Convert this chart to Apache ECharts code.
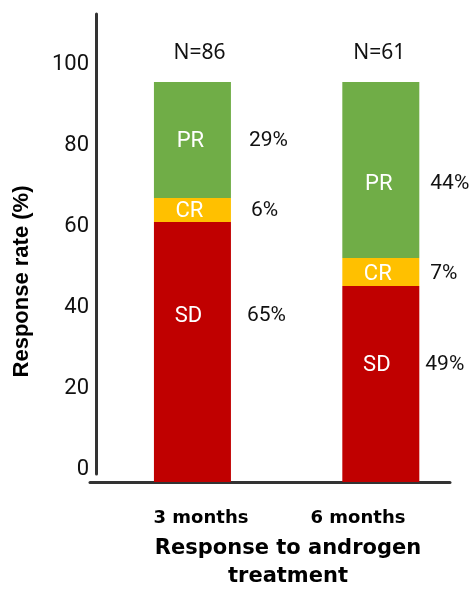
<!DOCTYPE html>
<html><head><meta charset="utf-8">
<script src="https://cdn.jsdelivr.net/npm/echarts@6/dist/echarts.min.js"></script>
<style>html,body{margin:0;padding:0;background:#fff}#c{width:475px;height:596px}</style>
</head><body><div id="c"></div>
<script>
// ---- data ----
const categories = ['3 months', '6 months'];
const segmentNames = ['SD', 'CR', 'PR'];
const sdValues = [65, 49];
const crValues = [6, 7];
const prValues = [29, 44];
const nLabels = ['N=86', 'N=61'];
const yTickValues = [0, 20, 40, 60, 80, 100];
const xTitle = 'Response to androgen\ntreatment';
const yTitle = 'Response rate (%)';

// ---- style config ----
const colors = { SD: '#C00000', CR: '#FFC000', PR: '#70AD47' };
const insideOffsets = { SD: [[-4, -36], [-4, -19]], CR: [[-3, 1], [-3, 2]], PR: [[-2, 1], [-2, 14]] };
const pctOffsets = { SD: [[16, -36], [6, -19]], CR: [[20, 1], [11, 2]], PR: [[18, 1], [11, 14]] };
const nOffsets = [[7, 0], [-1.5, 0]];
const FONT = 'Roboto';
const BOLD_X = 'DejaVu Sans';
const BOLD_Y = 'Liberation Sans';

const valuesBySeg = { SD: sdValues, CR: crValues, PR: prValues };
const series = [];
segmentNames.forEach(name => {
  series.push({
    name: name, type: 'bar', stack: 'main', xAxisIndex: 0, yAxisIndex: 0,
    barWidth: 77, barGap: '-100%', silent: true,
    itemStyle: { color: colors[name] },
    label: { show: true, position: 'inside', formatter: name, color: '#fff', fontFamily: FONT, fontSize: 22 },
    data: valuesBySeg[name].map((v, i) => ({ value: v, label: { offset: insideOffsets[name][i] } }))
  });
});
segmentNames.forEach(name => {
  series.push({
    name: name + ' %', type: 'bar', stack: 'pct', xAxisIndex: 0, yAxisIndex: 0,
    barWidth: 77, barGap: '-100%', silent: true,
    itemStyle: { color: 'rgba(0,0,0,0)' },
    label: { show: true, position: 'right', distance: 0, formatter: p => p.value + '%', color: '#111', fontFamily: FONT, fontSize: 21 },
    data: valuesBySeg[name].map((v, i) => ({ value: v, label: { offset: pctOffsets[name][i] } }))
  });
});
const totals = categories.map((c, i) => sdValues[i] + crValues[i] + prValues[i]);
series.push({
  name: 'N', type: 'bar', stack: 'tot', xAxisIndex: 0, yAxisIndex: 0,
  barWidth: 77, barGap: '-100%', silent: true,
  itemStyle: { color: 'rgba(0,0,0,0)' },
  label: { show: true, position: 'top', distance: 18, formatter: p => nLabels[p.dataIndex], color: '#111', fontFamily: 'Noto Sans', fontSize: 21 },
  data: totals.map((v, i) => ({ value: v, label: { offset: nOffsets[i] } }))
});

const axisLineStyle = { color: '#333', width: 3 };
const option = {
  animation: false,
  backgroundColor: '#fff',
  grid: [
    { left: 98.25, width: 381, top: 42, bottom: 114 },
    { left: 96, width: 100, top: 14, bottom: 122 },
    { left: 90, right: 25, top: 81, bottom: 114 },
    { left: 122.5, width: 314, top: 81, bottom: 114 }
  ],
  xAxis: [
    { gridIndex: 0, type: 'category', data: categories, show: false },
    { gridIndex: 1, type: 'value', show: false },
    { gridIndex: 2, type: 'value', axisLine: { show: true, onZero: false, lineStyle: axisLineStyle },
      axisTick: { show: false }, axisLabel: { show: false }, splitLine: { show: false } },
    { gridIndex: 3, type: 'category', data: categories,
      axisLine: { show: false }, axisTick: { show: false }, splitLine: { show: false },
      axisLabel: { fontFamily: BOLD_X, fontWeight: 'bold', fontSize: 18, color: '#000', margin: 38, lineHeight: 22 },
      name: xTitle, nameLocation: 'middle', nameGap: 66,
      nameTextStyle: { fontFamily: BOLD_X, fontWeight: 'bold', fontSize: 21, lineHeight: 28, color: '#000', padding: [0, 0, 0, 17] } }
  ],
  yAxis: [
    { gridIndex: 0, type: 'value', min: 0, max: 110, show: false },
    { gridIndex: 1, type: 'value', min: -1, max: 112.58,
      axisLine: { show: true, onZero: false, lineStyle: axisLineStyle },
      axisTick: { show: false }, splitLine: { show: false },
      axisLabel: { customValues: yTickValues, margin: 7, fontFamily: FONT, fontSize: 22, color: '#111' } },
    { gridIndex: 2, type: 'value', axisLine: { show: false }, axisTick: { show: false },
      axisLabel: { show: false }, splitLine: { show: false },
      name: yTitle, nameLocation: 'middle', nameGap: 57, nameRotate: 90,
      nameTextStyle: { fontFamily: BOLD_Y, fontWeight: 'bold', fontSize: 22, color: '#000' } },
    { gridIndex: 3, type: 'value', show: false }
  ],
  series: series
};
const chart = echarts.init(document.getElementById('c'), null, { renderer: 'canvas' });
chart.setOption(option);
</script>
</body></html>
